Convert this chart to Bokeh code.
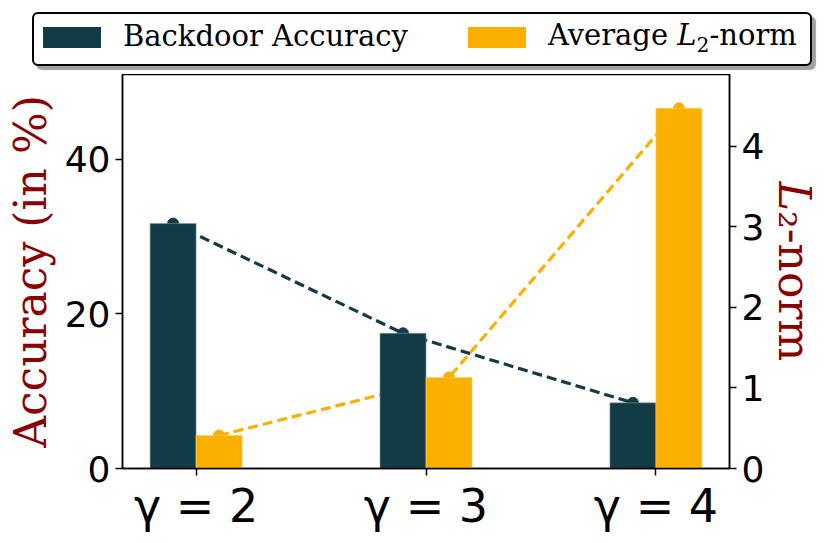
from bokeh.plotting import figure
from bokeh.layouts import column
from bokeh.models import Range1d, LinearAxis, FixedTicker, Div
from bokeh.embed import file_html
from bokeh.resources import INLINE

# data
gammas = ["γ = 2", "γ = 3", "γ = 4"]
backdoor_acc = [31.7, 17.5, 8.5]
avg_l2 = [0.41, 1.13, 4.47]
series_names = ["Backdoor Accuracy", "Average <i>L</i><sub style='font-size:70%'>2</sub>-norm"]

DARK = "#133B45"
ORANGE = "#FBB000"
RED = "#8B0000"
colors = [DARK, ORANGE]

x = list(range(len(gammas)))
bw = 0.2
x_dark = [i - bw / 2 for i in x]
x_orng = [i + bw / 2 for i in x]

W = 823
LEG_H = 74
MAIN_H = 461

# ---------------- legend (HTML) ----------------
items_html = ""
for k, (name, col) in enumerate(zip(series_names, colors)):
    ml = 9 if k == 0 else 60
    items_html += (f"<span style='display:inline-block;width:58px;height:21px;background:{col};"
                   f"margin-left:{ml}px;vertical-align:middle;'></span>"
                   f"<span style='margin-left:22px;vertical-align:middle;'>{name}</span>")
legend_html = (
    "<div style=\"box-sizing:border-box;margin-left:32px;margin-top:12px;width:780px;height:54px;"
    "padding-bottom:4px;border:2px solid black;border-radius:6px;box-shadow:4px 4px 1px #a0a0a0;"
    "background:white;font-family:'DejaVu Serif';font-size:29px;color:black;display:flex;"
    "align-items:center;white-space:nowrap;\">" + items_html + "</div>"
)
leg = Div(text=legend_html, width=W, height=LEG_H, margin=(0, 0, 0, 0))

# ---------------- main plot ----------------
p = figure(width=W, height=MAIN_H, output_backend="svg", toolbar_location=None,
           x_range=Range1d(-0.32, 2.32), y_range=Range1d(0, 51.0),
           min_border_left=122, min_border_right=91, min_border_top=0, min_border_bottom=64)
p.extra_y_ranges = {"l2": Range1d(0, 4.89)}
p.grid.visible = False
p.outline_line_color = "black"
p.outline_line_width = 1.5
p.background_fill_color = "white"
p.border_fill_color = "white"

# lines with markers (drawn beneath bars)
p.line(x_dark, backdoor_acc, line_color=DARK, line_width=3.2, line_dash="10 5")
p.scatter(x_dark, backdoor_acc, size=11, color=DARK)
p.line(x_orng, avg_l2, line_color=ORANGE, line_width=3.2, line_dash="10 5", y_range_name="l2")
p.scatter(x_orng, avg_l2, size=11, color=ORANGE, y_range_name="l2")

p.vbar(x=x_dark, top=backdoor_acc, width=bw, fill_color=DARK, line_color="#7f9aa0", line_width=0.6)
p.vbar(x=x_orng, top=avg_l2, width=bw, fill_color=ORANGE, line_color="#ffd060", line_width=0.6,
       y_range_name="l2")

# x axis
xa = p.xaxis[0]
xa.ticker = FixedTicker(ticks=x)
xa.major_label_overrides = {i: g for i, g in zip(x, gammas)}
xa.major_label_text_font = "DejaVu Sans"
xa.major_label_text_font_size = "46px"
xa.major_label_text_color = "black"
xa.minor_tick_line_color = None
xa.major_tick_out = 7
xa.major_tick_in = 0
xa.axis_line_width = 1.5
xa.major_tick_line_width = 1.5
xa.major_label_standoff = 3

# left y axis
ya = p.yaxis[0]
ya.ticker = FixedTicker(ticks=[0, 20, 40])
ya.major_label_text_font = "DejaVu Sans"
ya.major_label_text_font_size = "36px"
ya.major_label_text_color = "black"
ya.minor_tick_line_color = None
ya.major_tick_out = 7
ya.major_tick_in = 0
ya.axis_line_width = 1.5
ya.major_tick_line_width = 1.5
ya.major_label_standoff = 5
ya.axis_label = "Accuracy (in %)"
ya.axis_label_text_font = "DejaVu Serif"
ya.axis_label_text_font_style = "normal"
ya.axis_label_text_font_size = "44px"
ya.axis_label_text_color = RED
ya.axis_label_standoff = 6

# right y axis
ra = LinearAxis(y_range_name="l2", ticker=FixedTicker(ticks=[0, 1, 2, 3, 4]))
ra.major_label_text_font = "DejaVu Sans"
ra.major_label_text_font_size = "36px"
ra.major_label_text_color = "black"
ra.minor_tick_line_color = None
ra.major_tick_out = 7
ra.major_tick_in = 0
ra.axis_line_width = 1.5
ra.major_tick_line_width = 1.5
ra.major_label_standoff = 5
ra.axis_label = "𝐿₂-norm"
ra.axis_label_text_font = "DejaVu Serif"
ra.axis_label_text_font_style = "normal"
ra.axis_label_text_font_size = "44px"
ra.axis_label_text_color = RED
ra.axis_label_standoff = 2
p.add_layout(ra, "right")

layout = column(leg, p, spacing=0)
open("out.html", "w").write(file_html(layout, INLINE))
